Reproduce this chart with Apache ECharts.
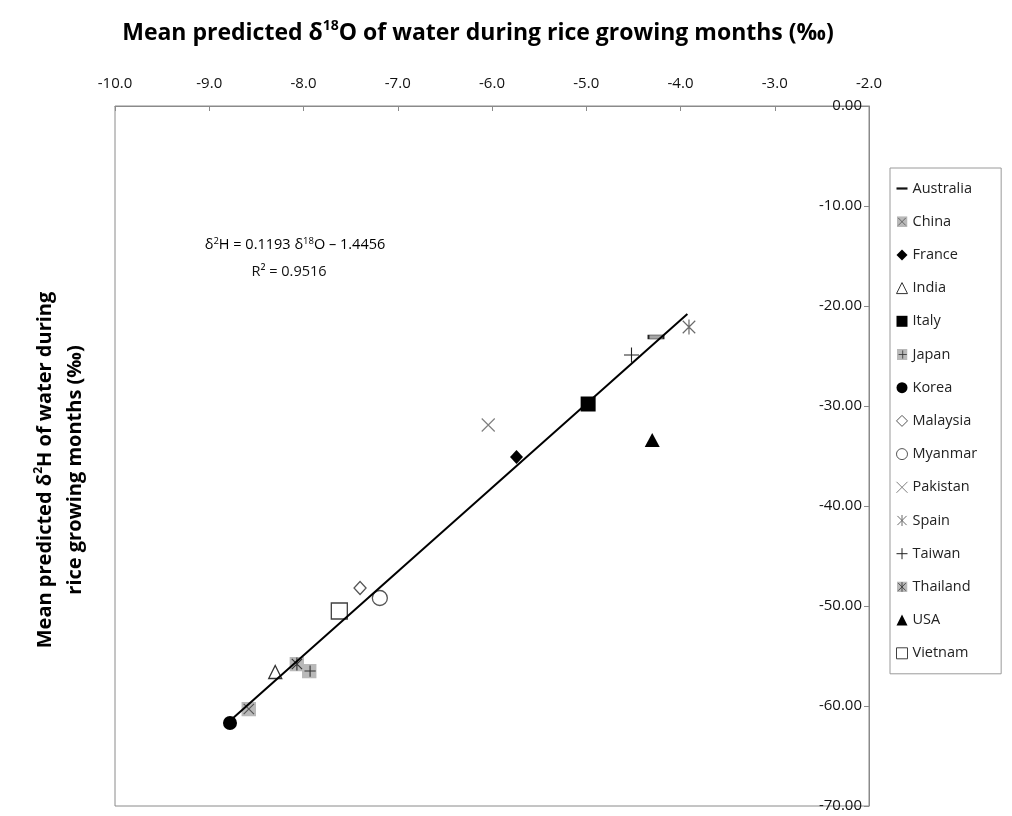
<!DOCTYPE html>
<html>
<head>
<meta charset="utf-8">
<script src="https://cdn.jsdelivr.net/npm/echarts@6/dist/echarts.min.js"></script>
<style>
  html, body { margin: 0; padding: 0; background: #ffffff; }
  #chart { width: 1012px; height: 816px; }
</style>
</head>
<body>
<div id="chart"></div>
<script>
// Countries, with mean predicted isotope values of water over the rice growing months
const countries = ['Australia', 'China', 'France', 'India', 'Italy', 'Japan', 'Korea', 'Malaysia',
                   'Myanmar', 'Pakistan', 'Spain', 'Taiwan', 'Thailand', 'USA', 'Vietnam'];
const d18O = [-4.26, -8.58, -5.74, -8.30, -4.98, -7.94, -8.78, -7.40,
              -7.19, -6.04, -3.91, -4.52, -8.07, -4.30, -7.62];
const d2H  = [-23.1, -60.3, -35.1, -56.6, -29.8, -56.5, -61.7, -48.2,
              -49.2, -31.9, -22.1, -24.9, -55.8, -33.4, -50.5];

// Axis ranges
const xRange = [-10, -2];
const yRange = [-70, 0];

// Linear fit (δ18O against δ2H) and the δ2H span it is drawn over
const fitSlope = 0.1193;
const fitIntercept = -1.4456;
const fitR2 = 0.9516;
const fitD2H = [-61.9, -20.8];

const FONT = '"Open Sans", "Noto Sans", sans-serif';

function svgSymbol(inner) {
  return 'image://data:image/svg+xml;charset=utf-8,' + encodeURIComponent(
    '<svg xmlns="http://www.w3.org/2000/svg" width="48" height="48" viewBox="0 0 16 16">' + inner + '</svg>');
}
const greyBox = '<rect x="0" y="0" width="16" height="16" fill="#b9b9b9"/>';

// Marker appearance per country
const markerStyle = {
  Australia: { symbol: 'rect', size: [15, 4], color: '#a6a6a6', border: '#222', bw: 1,
               legendIcon: 'path://M0,0L12,0L12,2.4L0,2.4Z', legendColor: '#111' },
  China:     { symbol: svgSymbol(greyBox + '<path d="M2.5 2.5L13.5 13.5M13.5 2.5L2.5 13.5" stroke="#555" stroke-width="1.2" fill="none"/>'), size: 15 },
  France:    { symbol: 'diamond', size: [13, 14], color: '#000' },
  India:     { symbol: 'triangle', size: [13, 13], color: '#fff', border: '#333', bw: 1.3 },
  Italy:     { symbol: 'rect', size: 15, color: '#000' },
  Japan:     { symbol: svgSymbol(greyBox + '<path d="M9 2V14M3 8H15" stroke="#333" stroke-width="1.2" fill="none"/>'), size: 15 },
  Korea:     { symbol: 'circle', size: 14, color: '#000' },
  Malaysia:  { symbol: 'diamond', size: [12, 13], color: '#fff', border: '#555', bw: 1.3 },
  Myanmar:   { symbol: 'circle', size: 15, color: '#fff', border: '#555', bw: 1.3 },
  Pakistan:  { symbol: 'path://M0,0L10,10M10,0L0,10', size: 13, color: 'rgba(0,0,0,0)', border: '#808080', bw: 1.2 },
  Spain:     { symbol: 'path://M0,0L10,10M10,0L0,10M5,-1L5,11', size: 15, color: 'rgba(0,0,0,0)', border: '#6a6a6a', bw: 1.2 },
  Taiwan:    { symbol: 'path://M5,0L5,10M0,5L10,5', size: 15, color: 'rgba(0,0,0,0)', border: '#222', bw: 1.1 },
  Thailand:  { symbol: svgSymbol(greyBox + '<path d="M2.5 2.5L13.5 13.5M13.5 2.5L2.5 13.5M8 1V15" stroke="#333" stroke-width="1.2" fill="none"/>'), size: 15 },
  USA:       { symbol: 'triangle', size: [15, 14], color: '#000' },
  Vietnam:   { symbol: 'rect', size: 16, color: '#fff', border: '#404040', bw: 1.3 }
};

const pointSeries = countries.map((name, i) => {
  const m = markerStyle[name];
  return {
    name: name,
    type: 'scatter',
    symbol: m.symbol,
    symbolSize: m.size,
    symbolKeepAspect: true,
    z: 2,
    itemStyle: {
      color: m.color || '#000',
      borderColor: m.border || 'transparent',
      borderWidth: m.bw || 0,
      opacity: 1
    },
    data: [[d18O[i], d2H[i]]]
  };
});

const fitSeries = {
  name: 'fit',
  type: 'line',
  symbol: 'none',
  silent: true,
  z: 3,
  lineStyle: { color: '#000', width: 2 },
  data: fitD2H.map(h => [fitSlope * h + fitIntercept, h])
};

const legendData = countries.map(name => {
  const m = markerStyle[name];
  const item = { name: name };
  if (m.legendIcon) {
    item.icon = m.legendIcon;
    item.itemStyle = { color: m.legendColor, borderWidth: 0 };
  } else if (m.bw) {
    item.itemStyle = { borderWidth: 1 };
  }
  return item;
});

const titleRich = {
  b:   { fontFamily: FONT, fontWeight: 'bold', fontSize: 23, color: '#111', lineHeight: 27, verticalAlign: 'middle' },
  sup: { fontFamily: FONT, fontWeight: 'bold', fontSize: 14, color: '#111', lineHeight: 15, verticalAlign: 'top' }
};
const yTitleRich = {
  b:   { fontFamily: FONT, fontWeight: 'bold', fontSize: 20, color: '#111', lineHeight: 24, verticalAlign: 'middle' },
  sup: { fontFamily: FONT, fontWeight: 'bold', fontSize: 12, color: '#111', lineHeight: 13, verticalAlign: 'top' }
};
const eqRich = {
  n:   { fontFamily: FONT, fontSize: 14.5, color: '#111', lineHeight: 18, verticalAlign: 'middle' },
  s:   { fontFamily: FONT, fontSize: 9.5, color: '#111', lineHeight: 10, verticalAlign: 'top' }
};

const chart = echarts.init(document.getElementById('chart'), null, { renderer: 'canvas' });
chart.setOption({
  animation: false,
  backgroundColor: '#ffffff',
  grid: {
    left: 115, right: 143, top: 106, bottom: 10,
    show: true, borderColor: '#8a8a8a', borderWidth: 1, backgroundColor: 'transparent'
  },
  xAxis: {
    type: 'value',
    position: 'top',
    min: xRange[0], max: xRange[1], interval: 1,
    axisLine: { show: true, lineStyle: { color: '#8a8a8a', width: 1 } },
    axisTick: { show: true, inside: true, length: 5, lineStyle: { color: '#8a8a8a' } },
    splitLine: { show: false },
    axisLabel: {
      formatter: v => v.toFixed(1),
      fontFamily: FONT, fontSize: 15, color: '#111', margin: 15,
      showMinLabel: true, showMaxLabel: true
    }
  },
  yAxis: {
    type: 'value',
    position: 'right',
    min: yRange[0], max: yRange[1], interval: 10,
    axisLine: { show: true, lineStyle: { color: '#8a8a8a', width: 1 } },
    axisTick: { show: true, inside: true, length: 5, lineStyle: { color: '#8a8a8a' } },
    splitLine: { show: false },
    axisLabel: {
      inside: true, margin: 7,
      formatter: v => v.toFixed(2),
      fontFamily: FONT, fontSize: 15, color: '#111',
      showMinLabel: true, showMaxLabel: true
    }
  },
  legend: {
    orient: 'vertical',
    left: 890, top: 168,
    padding: [13, 24, 13, 6],
    itemGap: 18.2,
    itemWidth: 11, itemHeight: 11,
    backgroundColor: '#fff',
    borderColor: '#9a9a9a', borderWidth: 1,
    selectedMode: false,
    textStyle: { fontFamily: FONT, fontSize: 14.5, color: '#222', lineHeight: 15 },
    data: legendData
  },
  graphic: [
    {
      type: 'text', x: 478, y: 33, silent: true,
      style: {
        text: '{b|Mean predicted δ}{sup|18}{b|O of water during rice growing months (‰)}',
        rich: titleRich, align: 'center', verticalAlign: 'middle'
      }
    },
    {
      type: 'text', x: 45, y: 470, rotation: Math.PI / 2, silent: true,
      style: {
        text: '{b|Mean predicted δ}{sup|2}{b|H of water during}',
        rich: yTitleRich, align: 'center', verticalAlign: 'middle'
      }
    },
    {
      type: 'text', x: 75, y: 470, rotation: Math.PI / 2, silent: true,
      style: {
        text: '{b|rice growing months (‰)}',
        rich: yTitleRich, align: 'center', verticalAlign: 'middle'
      }
    },
    {
      type: 'text', x: 295, y: 245, silent: true,
      style: {
        text: '{n|δ}{s|2}{n|H = ' + fitSlope.toFixed(4) + ' δ}{s|18}{n|O – ' + Math.abs(fitIntercept).toFixed(4) + '}',
        rich: eqRich, align: 'center', verticalAlign: 'middle'
      }
    },
    {
      type: 'text', x: 289, y: 272, silent: true,
      style: {
        text: 'R² = ' + fitR2.toFixed(4),
        fontFamily: FONT, fontSize: 14.5, fill: '#111', align: 'center', verticalAlign: 'middle'
      }
    }
  ],
  series: pointSeries.concat([fitSeries])
});
</script>
</body>
</html>
